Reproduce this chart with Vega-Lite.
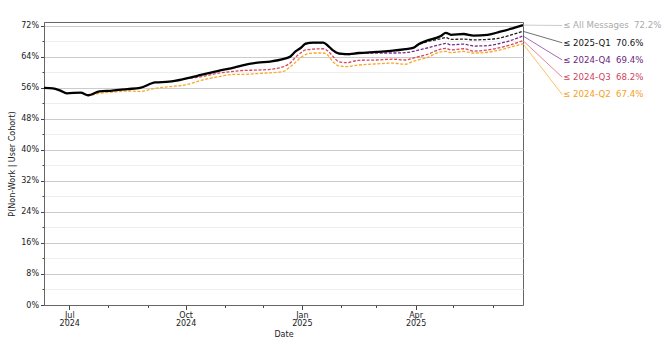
{
  "$schema": "https://vega.github.io/schema/vega-lite/v6.json",
  "width": 479,
  "height": 283,
  "autosize": {"type": "none"},
  "padding": {"left": 44, "top": 22, "right": 141, "bottom": 38},
  "background": "white",
  "config": {
    "view": {"stroke": "#666666", "strokeWidth": 1},
    "font": "DejaVu Sans",
    "axis": {
      "labelFont": "DejaVu Sans", "titleFont": "DejaVu Sans",
      "labelFontSize": 8, "titleFontSize": 8, "titleFontWeight": "normal",
      "labelColor": "#222222", "titleColor": "#222222",
      "domainColor": "#666666", "tickColor": "#444444"
    }
  },
  "datasets": {
    "main": [
      {"series": "All Messages", "date": "2024-06-11", "value": 56.0},
      {"series": "All Messages", "date": "2024-06-18", "value": 55.9},
      {"series": "All Messages", "date": "2024-06-24", "value": 55.3},
      {"series": "All Messages", "date": "2024-06-29", "value": 54.6},
      {"series": "All Messages", "date": "2024-07-10", "value": 54.8},
      {"series": "All Messages", "date": "2024-07-16", "value": 54.1},
      {"series": "All Messages", "date": "2024-07-25", "value": 55.1},
      {"series": "All Messages", "date": "2024-08-04", "value": 55.3},
      {"series": "All Messages", "date": "2024-08-16", "value": 55.7},
      {"series": "All Messages", "date": "2024-08-26", "value": 56.0},
      {"series": "All Messages", "date": "2024-09-07", "value": 57.4},
      {"series": "All Messages", "date": "2024-09-18", "value": 57.6},
      {"series": "All Messages", "date": "2024-10-01", "value": 58.4},
      {"series": "All Messages", "date": "2024-10-14", "value": 59.4},
      {"series": "All Messages", "date": "2024-10-27", "value": 60.4},
      {"series": "All Messages", "date": "2024-11-09", "value": 61.3},
      {"series": "All Messages", "date": "2024-11-16", "value": 61.9},
      {"series": "All Messages", "date": "2024-11-27", "value": 62.5},
      {"series": "All Messages", "date": "2024-12-07", "value": 62.8},
      {"series": "All Messages", "date": "2024-12-17", "value": 63.4},
      {"series": "All Messages", "date": "2024-12-23", "value": 64.1},
      {"series": "All Messages", "date": "2024-12-27", "value": 65.4},
      {"series": "All Messages", "date": "2024-12-31", "value": 66.3},
      {"series": "All Messages", "date": "2025-01-04", "value": 67.4},
      {"series": "All Messages", "date": "2025-01-10", "value": 67.7},
      {"series": "All Messages", "date": "2025-01-18", "value": 67.7},
      {"series": "All Messages", "date": "2025-01-22", "value": 66.8},
      {"series": "All Messages", "date": "2025-01-26", "value": 65.6},
      {"series": "All Messages", "date": "2025-01-30", "value": 64.9},
      {"series": "All Messages", "date": "2025-02-05", "value": 64.7},
      {"series": "All Messages", "date": "2025-02-15", "value": 65.0},
      {"series": "All Messages", "date": "2025-03-01", "value": 65.3},
      {"series": "All Messages", "date": "2025-03-14", "value": 65.6},
      {"series": "All Messages", "date": "2025-03-24", "value": 66.0},
      {"series": "All Messages", "date": "2025-03-30", "value": 66.3},
      {"series": "All Messages", "date": "2025-04-04", "value": 67.4},
      {"series": "All Messages", "date": "2025-04-09", "value": 68.1},
      {"series": "All Messages", "date": "2025-04-21", "value": 69.4},
      {"series": "All Messages", "date": "2025-04-25", "value": 70.2},
      {"series": "All Messages", "date": "2025-04-29", "value": 69.7},
      {"series": "All Messages", "date": "2025-05-09", "value": 69.9},
      {"series": "All Messages", "date": "2025-05-17", "value": 69.5},
      {"series": "All Messages", "date": "2025-05-28", "value": 69.7},
      {"series": "All Messages", "date": "2025-06-07", "value": 70.5},
      {"series": "All Messages", "date": "2025-06-15", "value": 71.2},
      {"series": "All Messages", "date": "2025-06-25", "value": 72.2},

      {"series": "2024-Q2", "date": "2024-07-01", "value": 54.6},
      {"series": "2024-Q2", "date": "2024-07-10", "value": 54.7},
      {"series": "2024-Q2", "date": "2024-07-16", "value": 54.0},
      {"series": "2024-Q2", "date": "2024-07-25", "value": 54.6},
      {"series": "2024-Q2", "date": "2024-08-04", "value": 54.9},
      {"series": "2024-Q2", "date": "2024-08-16", "value": 55.2},
      {"series": "2024-Q2", "date": "2024-08-26", "value": 55.1},
      {"series": "2024-Q2", "date": "2024-09-07", "value": 55.9},
      {"series": "2024-Q2", "date": "2024-09-18", "value": 56.3},
      {"series": "2024-Q2", "date": "2024-10-01", "value": 56.8},
      {"series": "2024-Q2", "date": "2024-10-14", "value": 58.0},
      {"series": "2024-Q2", "date": "2024-10-27", "value": 58.9},
      {"series": "2024-Q2", "date": "2024-11-09", "value": 59.5},
      {"series": "2024-Q2", "date": "2024-11-16", "value": 59.5},
      {"series": "2024-Q2", "date": "2024-11-27", "value": 59.7},
      {"series": "2024-Q2", "date": "2024-12-07", "value": 59.9},
      {"series": "2024-Q2", "date": "2024-12-17", "value": 60.2},
      {"series": "2024-Q2", "date": "2024-12-23", "value": 61.5},
      {"series": "2024-Q2", "date": "2024-12-27", "value": 62.6},
      {"series": "2024-Q2", "date": "2024-12-31", "value": 63.8},
      {"series": "2024-Q2", "date": "2025-01-04", "value": 64.6},
      {"series": "2024-Q2", "date": "2025-01-10", "value": 65.0},
      {"series": "2024-Q2", "date": "2025-01-18", "value": 65.0},
      {"series": "2024-Q2", "date": "2025-01-22", "value": 64.3},
      {"series": "2024-Q2", "date": "2025-01-26", "value": 62.6},
      {"series": "2024-Q2", "date": "2025-01-30", "value": 61.7},
      {"series": "2024-Q2", "date": "2025-02-05", "value": 61.5},
      {"series": "2024-Q2", "date": "2025-02-15", "value": 61.9},
      {"series": "2024-Q2", "date": "2025-03-01", "value": 62.2},
      {"series": "2024-Q2", "date": "2025-03-14", "value": 62.4},
      {"series": "2024-Q2", "date": "2025-03-24", "value": 62.1},
      {"series": "2024-Q2", "date": "2025-03-30", "value": 62.8},
      {"series": "2024-Q2", "date": "2025-04-04", "value": 63.3},
      {"series": "2024-Q2", "date": "2025-04-09", "value": 63.7},
      {"series": "2024-Q2", "date": "2025-04-21", "value": 65.3},
      {"series": "2024-Q2", "date": "2025-04-25", "value": 65.4},
      {"series": "2024-Q2", "date": "2025-04-29", "value": 65.1},
      {"series": "2024-Q2", "date": "2025-05-09", "value": 65.4},
      {"series": "2024-Q2", "date": "2025-05-17", "value": 65.0},
      {"series": "2024-Q2", "date": "2025-05-28", "value": 65.2},
      {"series": "2024-Q2", "date": "2025-06-07", "value": 65.8},
      {"series": "2024-Q2", "date": "2025-06-15", "value": 66.5},
      {"series": "2024-Q2", "date": "2025-06-25", "value": 67.4},

      {"series": "2024-Q3", "date": "2024-10-01", "value": 58.4},
      {"series": "2024-Q3", "date": "2024-10-14", "value": 58.9},
      {"series": "2024-Q3", "date": "2024-10-27", "value": 59.8},
      {"series": "2024-Q3", "date": "2024-11-09", "value": 60.3},
      {"series": "2024-Q3", "date": "2024-11-16", "value": 60.5},
      {"series": "2024-Q3", "date": "2024-11-27", "value": 60.6},
      {"series": "2024-Q3", "date": "2024-12-07", "value": 60.8},
      {"series": "2024-Q3", "date": "2024-12-17", "value": 61.4},
      {"series": "2024-Q3", "date": "2024-12-23", "value": 62.5},
      {"series": "2024-Q3", "date": "2024-12-27", "value": 63.9},
      {"series": "2024-Q3", "date": "2024-12-31", "value": 65.0},
      {"series": "2024-Q3", "date": "2025-01-04", "value": 65.8},
      {"series": "2024-Q3", "date": "2025-01-10", "value": 66.0},
      {"series": "2024-Q3", "date": "2025-01-18", "value": 66.1},
      {"series": "2024-Q3", "date": "2025-01-22", "value": 65.4},
      {"series": "2024-Q3", "date": "2025-01-26", "value": 64.0},
      {"series": "2024-Q3", "date": "2025-01-30", "value": 62.8},
      {"series": "2024-Q3", "date": "2025-02-05", "value": 62.5},
      {"series": "2024-Q3", "date": "2025-02-15", "value": 63.1},
      {"series": "2024-Q3", "date": "2025-03-01", "value": 63.2},
      {"series": "2024-Q3", "date": "2025-03-14", "value": 63.4},
      {"series": "2024-Q3", "date": "2025-03-24", "value": 63.2},
      {"series": "2024-Q3", "date": "2025-03-30", "value": 63.7},
      {"series": "2024-Q3", "date": "2025-04-04", "value": 64.1},
      {"series": "2024-Q3", "date": "2025-04-09", "value": 64.5},
      {"series": "2024-Q3", "date": "2025-04-21", "value": 66.0},
      {"series": "2024-Q3", "date": "2025-04-25", "value": 66.2},
      {"series": "2024-Q3", "date": "2025-04-29", "value": 65.8},
      {"series": "2024-Q3", "date": "2025-05-09", "value": 66.1},
      {"series": "2024-Q3", "date": "2025-05-17", "value": 65.5},
      {"series": "2024-Q3", "date": "2025-05-28", "value": 65.8},
      {"series": "2024-Q3", "date": "2025-06-07", "value": 66.4},
      {"series": "2024-Q3", "date": "2025-06-15", "value": 67.1},
      {"series": "2024-Q3", "date": "2025-06-25", "value": 68.2},

      {"series": "2024-Q4", "date": "2025-01-01", "value": 66.5},
      {"series": "2024-Q4", "date": "2025-01-04", "value": 67.3},
      {"series": "2024-Q4", "date": "2025-01-10", "value": 67.6},
      {"series": "2024-Q4", "date": "2025-01-18", "value": 67.6},
      {"series": "2024-Q4", "date": "2025-01-22", "value": 66.7},
      {"series": "2024-Q4", "date": "2025-01-26", "value": 65.5},
      {"series": "2024-Q4", "date": "2025-01-30", "value": 64.8},
      {"series": "2024-Q4", "date": "2025-02-05", "value": 64.6},
      {"series": "2024-Q4", "date": "2025-02-15", "value": 64.9},
      {"series": "2024-Q4", "date": "2025-03-01", "value": 65.0},
      {"series": "2024-Q4", "date": "2025-03-14", "value": 65.0},
      {"series": "2024-Q4", "date": "2025-03-24", "value": 65.1},
      {"series": "2024-Q4", "date": "2025-03-30", "value": 65.4},
      {"series": "2024-Q4", "date": "2025-04-04", "value": 65.8},
      {"series": "2024-Q4", "date": "2025-04-09", "value": 66.2},
      {"series": "2024-Q4", "date": "2025-04-21", "value": 67.2},
      {"series": "2024-Q4", "date": "2025-04-25", "value": 67.5},
      {"series": "2024-Q4", "date": "2025-04-29", "value": 67.1},
      {"series": "2024-Q4", "date": "2025-05-09", "value": 67.3},
      {"series": "2024-Q4", "date": "2025-05-17", "value": 66.8},
      {"series": "2024-Q4", "date": "2025-05-28", "value": 66.9},
      {"series": "2024-Q4", "date": "2025-06-07", "value": 67.5},
      {"series": "2024-Q4", "date": "2025-06-15", "value": 68.2},
      {"series": "2024-Q4", "date": "2025-06-25", "value": 69.4},

      {"series": "2025-Q1", "date": "2025-04-01", "value": 66.8},
      {"series": "2025-Q1", "date": "2025-04-04", "value": 67.3},
      {"series": "2025-Q1", "date": "2025-04-09", "value": 67.8},
      {"series": "2025-Q1", "date": "2025-04-21", "value": 68.7},
      {"series": "2025-Q1", "date": "2025-04-25", "value": 69.0},
      {"series": "2025-Q1", "date": "2025-04-29", "value": 68.5},
      {"series": "2025-Q1", "date": "2025-05-09", "value": 68.6},
      {"series": "2025-Q1", "date": "2025-05-17", "value": 68.4},
      {"series": "2025-Q1", "date": "2025-05-28", "value": 68.5},
      {"series": "2025-Q1", "date": "2025-06-07", "value": 68.9},
      {"series": "2025-Q1", "date": "2025-06-15", "value": 69.6},
      {"series": "2025-Q1", "date": "2025-06-25", "value": 70.6}
    ],
    "labels": [
      {"series": "All Messages", "date": "2025-06-25", "value": 72.2, "order": 0, "label": "≤ All Messages\u00a0\u00a072.2%"},
      {"series": "2025-Q1", "date": "2025-06-25", "value": 70.6, "order": 1, "label": "≤ 2025-Q1\u00a0\u00a070.6%"},
      {"series": "2024-Q4", "date": "2025-06-25", "value": 69.4, "order": 2, "label": "≤ 2024-Q4\u00a0\u00a069.4%"},
      {"series": "2024-Q3", "date": "2025-06-25", "value": 68.2, "order": 3, "label": "≤ 2024-Q3\u00a0\u00a068.2%"},
      {"series": "2024-Q2", "date": "2025-06-25", "value": 67.4, "order": 4, "label": "≤ 2024-Q2\u00a0\u00a067.4%"}
    ]
  },
  "layer": [
    {
      "data": {"name": "main"},
      "transform": [{"filter": "datum.series !== 'All Messages'"}],
      "mark": {"type": "line", "strokeWidth": 1.3, "strokeDash": [3, 1.6], "interpolate": "monotone"},
      "encoding": {
        "x": {
          "field": "date", "type": "temporal",
          "scale": {"type": "utc", "domain": [{"year": 2024, "month": 6, "date": 11, "utc": true}, {"year": 2025, "month": 6, "date": 25, "utc": true}]},
          "axis": {
            "values": [
              {"year": 2024, "month": 8, "date": 1, "utc": true}, {"year": 2024, "month": 9, "date": 1, "utc": true},
              {"year": 2024, "month": 11, "date": 1, "utc": true}, {"year": 2024, "month": 12, "date": 1, "utc": true},
              {"year": 2025, "month": 2, "date": 1, "utc": true}, {"year": 2025, "month": 3, "date": 1, "utc": true},
              {"year": 2025, "month": 5, "date": 1, "utc": true}, {"year": 2025, "month": 6, "date": 1, "utc": true}
            ],
            "labels": false, "grid": false, "domain": false, "tickSize": 2.5, "title": null, "orient": "bottom"
          }
        },
        "y": {
          "field": "value", "type": "quantitative",
          "scale": {"domain": [0, 73], "nice": false, "zero": false},
          "axis": {
            "values": [4, 12, 20, 28, 36, 44, 52, 60, 68],
            "labels": false, "grid": true, "gridColor": "#eeeeee", "domain": false, "tickSize": 2, "title": null, "orient": "left"
          }
        },
        "color": {
          "field": "series", "type": "nominal", "legend": null,
          "scale": {"domain": ["All Messages", "2025-Q1", "2024-Q4", "2024-Q3", "2024-Q2"], "range": ["#000000", "#1e1e1e", "#7b2a8e", "#d8465c", "#f9a825"]}
        }
      }
    },
    {
      "data": {"name": "main"},
      "transform": [{"filter": "datum.series === 'All Messages'"}],
      "mark": {"type": "line", "strokeWidth": 2.3, "color": "#000000", "interpolate": "monotone"},
      "encoding": {
        "x": {
          "field": "date", "type": "temporal",
          "axis": {
            "values": [
              {"year": 2024, "month": 7, "date": 1, "utc": true}, {"year": 2024, "month": 10, "date": 1, "utc": true},
              {"year": 2025, "month": 1, "date": 1, "utc": true}, {"year": 2025, "month": 4, "date": 1, "utc": true}
            ],
            "labelExpr": "[utcFormat(datum.value, '%b'), utcFormat(datum.value, '%Y')]",
            "labelLineHeight": 7.5, "labelPadding": 2, "tickSize": 4.5, "grid": false,
            "title": "Date", "titlePadding": 3, "orient": "bottom"
          }
        },
        "y": {
          "field": "value", "type": "quantitative",
          "axis": {
            "values": [0, 8, 16, 24, 32, 40, 48, 56, 64, 72],
            "labelExpr": "datum.value + '%'",
            "grid": true, "gridColor": "#cccccc", "tickSize": 3.5, "labelPadding": 2,
            "title": "P(Non-Work | User Cohort)", "titlePadding": 4, "orient": "left"
          }
        }
      }
    },
    {
      "data": {"name": "labels"},
      "transform": [{"calculate": "72.1 - 4.45 * datum.order", "as": "ly"}],
      "mark": {"type": "rule", "strokeWidth": 0.9, "opacity": 0.85},
      "encoding": {
        "x": {"field": "date", "type": "temporal", "axis": null},
        "y": {"field": "value", "type": "quantitative", "axis": null},
        "x2": {"datum": {"year": 2025, "month": 7, "date": 26, "utc": true}},
        "y2": {"field": "ly"},
        "color": {
          "field": "series", "type": "nominal", "legend": null,
          "scale": {"domain": ["All Messages", "2025-Q1", "2024-Q4", "2024-Q3", "2024-Q2"], "range": ["#bbbbbb", "#444444", "#8a3aa0", "#e0607a", "#f9b030"]}
        }
      }
    },
    {
      "data": {"name": "labels"},
      "transform": [{"calculate": "72.1 - 4.45 * datum.order", "as": "ly"}],
      "mark": {"type": "text", "align": "left", "baseline": "middle", "dx": 1, "fontSize": 8.6, "font": "DejaVu Sans"},
      "encoding": {
        "x": {"datum": {"year": 2025, "month": 7, "date": 26, "utc": true}, "type": "temporal", "axis": null},
        "y": {"field": "ly", "type": "quantitative", "axis": null},
        "text": {"field": "label"},
        "color": {
          "field": "series", "type": "nominal", "legend": null,
          "scale": {"domain": ["All Messages", "2025-Q1", "2024-Q4", "2024-Q3", "2024-Q2"], "range": ["#aaaaaa", "#111111", "#6a2480", "#d0435a", "#f5a020"]}
        }
      }
    }
  ],
  "resolve": {"scale": {"color": "independent"}, "axis": {"x": "independent", "y": "independent"}}
}
